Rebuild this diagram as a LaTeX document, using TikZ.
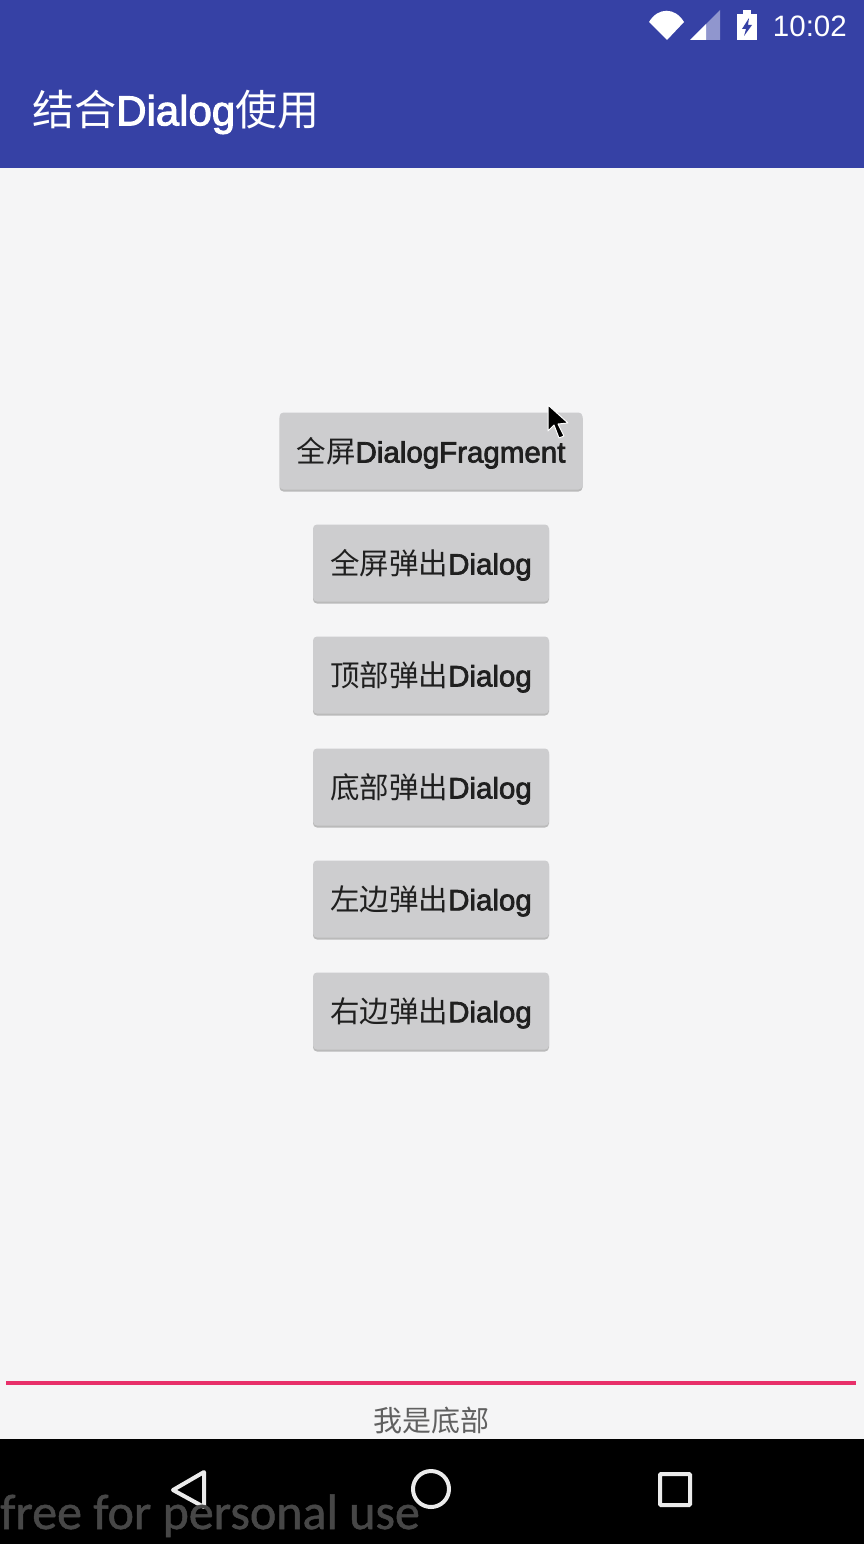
\documentclass[tikz,border=0pt]{standalone}
\usepackage{fontspec}
\setmainfont{Liberation Sans}
\newfontfamily\cjk{Noto Sans CJK SC}
\newfontfamily\latinfont[FakeBold=2.4]{Liberation Sans}
\newfontfamily\markfont[FakeBold=1]{Carlito}
\usetikzlibrary{shadows}
\definecolor{barblue}{HTML}{3641A5}
\definecolor{pagegray}{HTML}{F5F5F6}
\definecolor{btngray}{HTML}{CDCDCF}
\definecolor{linered}{HTML}{E8306A}
\tikzstyle{button} = [rectangle, rounded corners=4pt, minimum height=77pt, fill=btngray, text=black!88, inner sep=0pt, drop shadow={shadow xshift=0pt, shadow yshift=-2pt, fill=black!50, opacity=0.5}]
\newcommand{\btntext}[2]{\raisebox{-2pt}[\height][\depth]{\fontsize{29.5}{31}\selectfont{\cjk #1}{\latinfont #2}}}

\begin{document}
\begin{tikzpicture}[x=1pt,y=-1pt]
    \useasboundingbox (0,0) rectangle (864,1544);
    \fill [pagegray] (0,0) rectangle (864,1544);
    \fill [barblue] (0,0) rectangle (864,168);
    \fill [black] (0,1439) rectangle (864,1544);
    % status bar
    \fill [white] (649,22) .. controls (658,7) and (675,7) .. (684,22) -- (667,40) -- cycle;
    \fill [white!45!barblue] (720,10) -- (720,40) -- (690,40) -- cycle;
    \fill [white] (706,24) -- (706,40) -- (690,40) -- cycle;
    \fill [white] (737,14) rectangle (757,40);
    \fill [white] (743,10) rectangle (751,14);
    \fill [barblue] (749,18) -- (742,29) -- (746,29) -- (744,36) -- (752,25) -- (748,25) -- cycle;
    \node (clock) [text=white, anchor=east, inner sep=0pt] at (847,26.5) {\fontsize{29.5}{31}\selectfont 10:02};
    \node (title) [text=white, anchor=west, inner sep=0pt] at (32,112) {\fontsize{42}{44}\selectfont{\cjk 结合}{\latinfont Dialog}{\cjk 使用}};
    % buttons
    \node (fragment) [button, minimum width=303pt] at (431,451) {\btntext{全屏}{DialogFragment}};
    \node (full) [button, minimum width=236pt] at (431,563) {\btntext{全屏弹出}{Dialog}};
    \node (top) [button, minimum width=236pt] at (431,675) {\btntext{顶部弹出}{Dialog}};
    \node (bottom) [button, minimum width=236pt] at (431,787) {\btntext{底部弹出}{Dialog}};
    \node (left) [button, minimum width=236pt] at (431,899) {\btntext{左边弹出}{Dialog}};
    \node (right) [button, minimum width=236pt] at (431,1011) {\btntext{右边弹出}{Dialog}};
    % cursor
    \draw [white, line width=1pt, fill=black, line join=round] (548,405) -- (548,431) -- (554,425) -- (559,438) -- (564,436) -- (558,424) -- (568,423) -- cycle;
    % bottom
    \draw [linered, line width=4pt] (6,1383) -- (856,1383);
    \node (tip) [text=black!62, inner sep=0pt] at (431,1420) {\fontsize{29}{31}\selectfont\cjk 我是底部};
    % navigation
    \draw [white!92!black, line width=4pt, line join=round] (204,1472) -- (173,1490) -- (204,1507) -- cycle;
    \draw [white!92!black, line width=4pt] (431,1489) circle (18pt);
    \draw [white!92!black, line width=4pt, rounded corners=1pt] (660,1474) rectangle (690,1505);
    \node (mark) [text=white!28!black, anchor=base west, inner sep=0pt] at (0,1529) {\fontsize{50}{52}\selectfont\markfont free for personal use};
\end{tikzpicture}
\end{document}
